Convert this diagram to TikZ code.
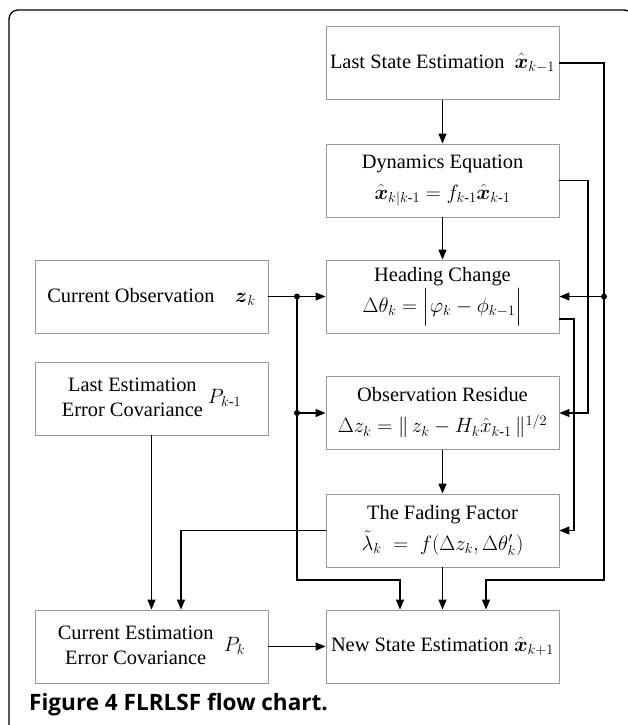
\documentclass[tikz,border=0pt]{standalone}
\usepackage{amsmath}
\usepackage{fontspec}
\setmainfont{Liberation Serif}
\newfontfamily\capfont{Open Sans}
\usetikzlibrary{arrows.meta}

\newcommand{\twolines}[2]{{\fontsize{20.4}{25}\selectfont\begin{tabular}{@{}c@{}}#1\\#2\end{tabular}}}
\newcommand{\km}{k\text{-}1}

\begin{document}
\begin{tikzpicture}[x=1pt,y=-1pt,
    box/.style={draw=black!40, line width=0.9pt, minimum width=233pt, minimum height=73pt,
      inner sep=0pt, align=center, font=\fontsize{20.4}{31}\selectfont},
    wire/.style={line width=1.2pt},
    arr/.style={-{Triangle[length=10pt,width=8pt]}}]
  \useasboundingbox (0,0) rectangle (627,725);
  \draw [line width=1.3pt, rounded corners=9pt] (9,745) -- (9,10) -- (633,10) -- (633,745);
  % center column
  \node [box] (last) at (442.5,63) {Last State Estimation\ \ $\hat{\boldsymbol{x}}_{k-1}$};
  \node [box] (dyn) at (442.5,180.5) {Dynamics Equation\\$\hat{\boldsymbol{x}}_{k|\km}=f_{\km}\hat{\boldsymbol{x}}_{\km}$};
  \node [box] (head) at (442.5,296.5) {Heading Change\\$\Delta\theta_k=\Bigl|\varphi_k-\phi_{k-1}\Bigr|$};
  \node [box] (res) at (442.5,413) {Observation Residue\\$\Delta z_k=\|\,z_k-H_k\hat{x}_{\km}\,\|^{1/2}$};
  \node [box] (fade) at (442.5,530.5) {The Fading Factor\\$\tilde{\lambda}_k\;=\;f(\Delta z_k,\Delta\theta'_k)$};
  \node [box] (new) at (442.5,646.5) {New State Estimation $\hat{\boldsymbol{x}}_{k+1}$};
  % left column
  \node [box] (obs) at (151.5,296.5) {Current Observation\quad$\boldsymbol{z}_k$};
  \node [box] (lcov) at (151.5,398.5) {\twolines{Last Estimation}{Error Covariance}\ $P_{\km}$};
  \node [box] (ccov) at (151.5,646.5) {\twolines{Current Estimation}{Error Covariance}\ \ $P_k$};
  \node [anchor=base west, inner sep=0pt, font={\capfont\bfseries\fontsize{20.5}{24}\selectfont}] (cap) at (29,710) {\scalebox{1.1}{Figure 4 FLRLSF flow chart.}};
  % straight arrows
  \draw [wire,arr] (last) -- (dyn);
  \draw [wire,arr] (dyn) -- (head);
  \draw [wire,arr] (res) -- (fade);
  \draw [wire,arr] (fade) -- (new);
  \draw [wire,arr] (obs) -- (head);
  \draw [wire,arr] (lcov) -- (ccov);
  \draw [wire,arr] (ccov) -- (new);
  % right side
  \coordinate (r1) at (604,296.5);
  \coordinate (r2) at (604,580);
  \coordinate (d1) at (588,413);
  \coordinate (h1) at (574,530.5);
  \draw [wire,arr] (last.east) -| (r2) -| ([xshift=43.5pt]new.north);
  \draw [wire,arr] (r1) -- (head.east);
  \draw [wire,arr] (dyn.east) -| (d1) -- (res.east);
  \draw [wire,arr] ([yshift=-22.5pt]head.east) -| (h1) -- (fade.east);
  % left side
  \coordinate (z1) at (297,296.5);
  \coordinate (z2) at (297,413);
  \coordinate (z3) at (297,580);
  \draw [wire,arr] (z1) -- (z3) -| ([xshift=-42.5pt]new.north);
  \draw [wire,arr] (z2) -- (res.west);
  \draw [wire,arr] (fade.west) -| ([xshift=29.5pt]ccov.north);
  \fill (z1) circle (3pt) (z2) circle (3pt) (r1) circle (3pt);
\end{tikzpicture}
\end{document}
